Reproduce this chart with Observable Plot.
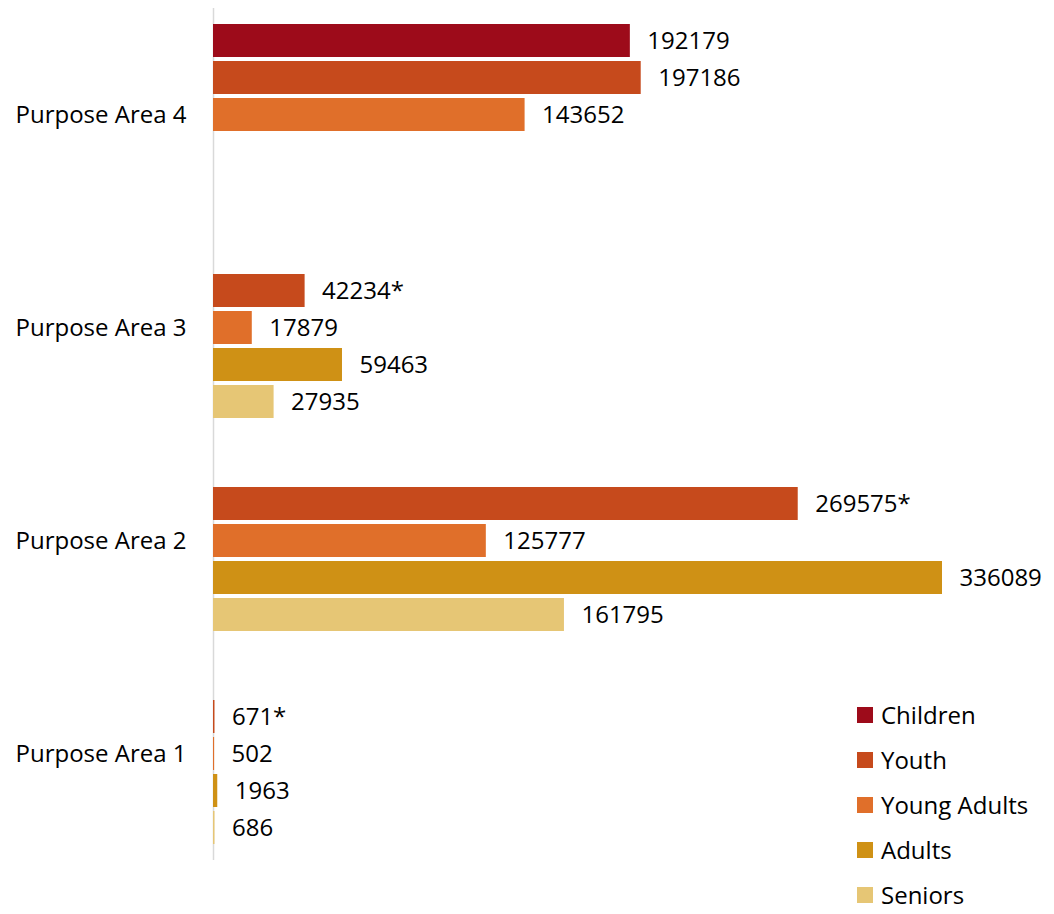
<!DOCTYPE html>
<html>
<head>
<meta charset="utf-8">
<script src="https://cdn.jsdelivr.net/npm/d3@7"></script>
<script src="https://cdn.jsdelivr.net/npm/@observablehq/plot@0.6"></script>
<style>
  body { margin: 0; background: #fff; }
  #wrap { position: relative; width: 1054px; height: 914px; overflow: hidden; font-family: 'Open Sans', sans-serif; }
  #legend { position: absolute; left: 857px; top: 697px; }
  .row { display: flex; align-items: center; height: 36px; margin-bottom: 9px; font-size: 24px; line-height: 32px; color: #000; }
  .row:last-child { margin-bottom: 0; }
  .sw { width: 16px; height: 16px; margin-right: 8px; }
</style>
</head>
<body>
<div id="wrap"><div id="chart"></div><div id="legend"></div></div>
<script>
const areas = ["Purpose Area 4", "Purpose Area 3", "Purpose Area 2", "Purpose Area 1"];
const seriesNames = ["Children", "Youth", "Young Adults", "Adults", "Seniors"];
const colors = ["#9D0B1A", "#C64A1C", "#E06F2A", "#CF9115", "#E6C675"];
const children    = [192179, null, null, null];
const youth       = [197186, 42234, 269575, 671];
const youngAdults = [143652, 17879, 125777, 502];
const adults      = [null, 59463, 336089, 1963];
const seniors     = [null, 27935, 161795, 686];
const youthNotes  = ["", "*", "*", "*"];

const seriesValues = [children, youth, youngAdults, adults, seniors];
const rows = [];
areas.forEach((area, i) => {
  seriesNames.forEach((s, j) => {
    const v = seriesValues[j][i];
    if (v != null) {
      const note = s === "Youth" ? youthNotes[i] : "";
      rows.push({area, series: s, value: v, label: String(v) + note});
    }
  });
});

const chart = Plot.plot({
  width: 1054,
  height: 914,
  marginLeft: 213,
  marginRight: 112,
  marginTop: 8,
  marginBottom: 54,
  style: {fontFamily: "'Open Sans', sans-serif", background: "white", color: "black"},
  x: {domain: [0, 336089], axis: null},
  y: {domain: seriesNames, axis: null, paddingInner: 4 / 37, paddingOuter: 0.432},
  fy: {domain: areas, padding: 0, axis: null},
  color: {domain: seriesNames, range: colors},
  marks: [
    Plot.axisFy({anchor: "left", tickSize: 0, tickPadding: 27, fontSize: 24, label: null}),
    Plot.ruleX([0], {stroke: "#d9d9d9", strokeWidth: 1.5}),
    Plot.barX(rows, {fy: "area", y: "series", x: "value", fill: "series"}),
    Plot.text(rows, {fy: "area", y: "series", x: "value", text: "label", dx: 17, textAnchor: "start", fontSize: 24, fill: "black"})
  ]
});
document.getElementById("chart").appendChild(chart);

const legend = document.getElementById("legend");
seriesNames.forEach((s, i) => {
  const row = document.createElement("div");
  row.className = "row";
  const sw = document.createElement("div");
  sw.className = "sw";
  sw.style.background = colors[i];
  const t = document.createElement("span");
  t.textContent = s;
  row.appendChild(sw);
  row.appendChild(t);
  legend.appendChild(row);
});
</script>
</body>
</html>
